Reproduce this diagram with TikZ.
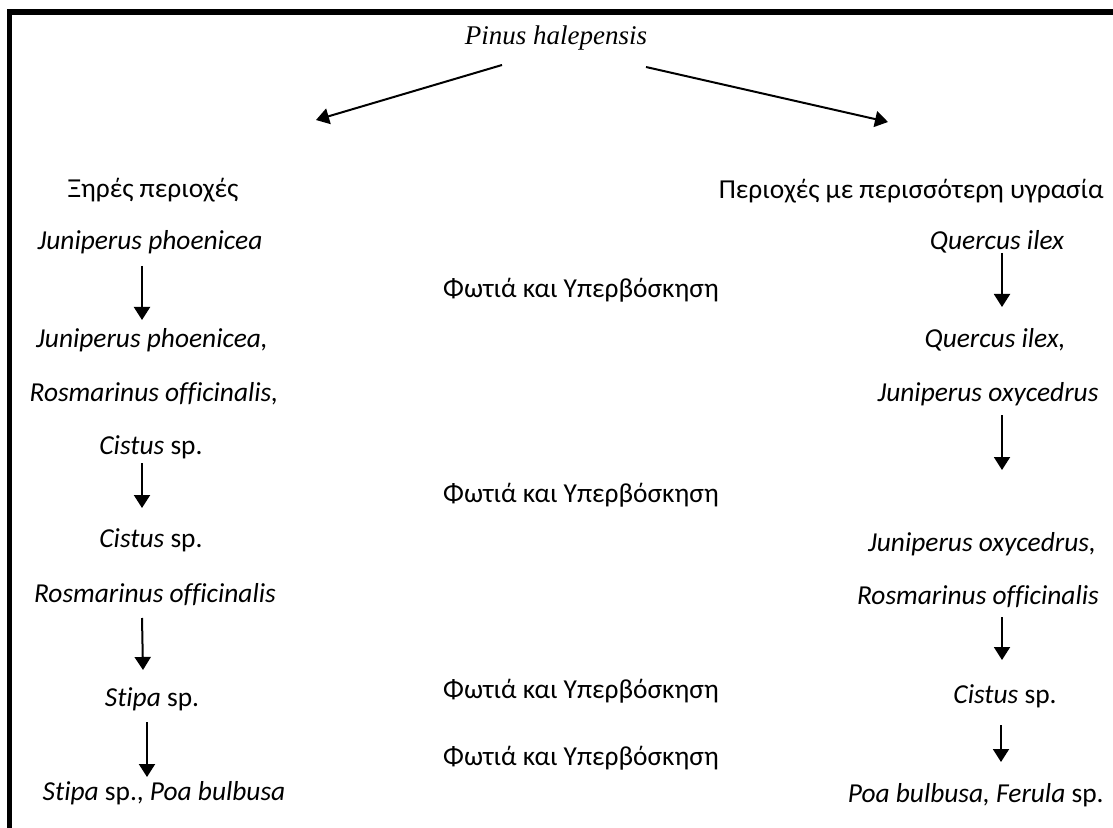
\documentclass[tikz,border=0pt]{standalone}
\usepackage{fontspec}
\setmainfont{Carlito}[Ligatures=NoCommon]
\newfontfamily\timesfont{Liberation Serif}
\usetikzlibrary{arrows.meta}
\begin{document}
\begin{tikzpicture}[x=0.5pt,y=-0.5pt,
  lbl/.style={anchor=base,inner sep=0pt,font=\fontsize{13.7}{16}\selectfont},
  lble/.style={lbl,anchor=base east},
  arr/.style={line width=1pt,-{Triangle[length=6.5pt,width=8pt]}},
  frame/.style={line width=2.8pt,line join=miter}]
\useasboundingbox (0,0) rectangle (1113,828);
% frame (top and left edges)
\coordinate (fbl) at (9.5,828);
\coordinate (ftl) at (9.5,12);
\coordinate (ftr) at (1113,12);
\draw[frame] (fbl) -- (ftl) -- (ftr);
% title
\node[lbl,font=\fontsize{13.5}{15}\selectfont] (pinus) at (556,45) {\timesfont\itshape Pinus halepensis};
% headings
\node[lbl] (dry) at (153,198) {Ξηρές περιοχές};
\node[lble] (wet) at (1104,199) {Περιοχές με περισσότερη υγρασία};
% left column
\node[lbl] (L1) at (150,250) {\textit{Juniperus phoenicea}};
\node[lbl] (L2) at (152,348) {\textit{Juniperus phoenicea,}};
\node[lbl] (L3) at (154,401) {\textit{Rosmarinus officinalis,}};
\node[lbl] (L4) at (151,454) {\textit{Cistus} sp.};
\node[lbl] (L5) at (151,547) {\textit{Cistus} sp.};
\node[lbl] (L6) at (155,602) {\textit{Rosmarinus officinalis}};
\node[lbl] (L7) at (152,706) {\textit{Stipa} sp.};
\node[lbl] (L8) at (164,800) {\textit{Stipa} sp., \textit{Poa bulbusa}};
% right column
\node[lbl] (R1) at (997,250) {\textit{Quercus ilex}};
\node[lbl] (R2) at (995,348) {\textit{Quercus ilex,}};
\node[lbl] (R3) at (988,401) {\textit{Juniperus oxycedrus}};
\node[lbl] (R4) at (982,551) {\textit{Juniperus oxycedrus,}};
\node[lbl] (R5) at (978,604) {\textit{Rosmarinus officinalis}};
\node[lbl] (R6) at (1005,703) {\textit{Cistus} sp.};
\node[lble] (R7) at (1104,802) {\textit{Poa bulbusa, Ferula} sp.};
% middle labels
\node[lbl] (F1) at (581,298) {Φωτιά και Υπερβόσκηση};
\node[lbl] (F2) at (581,502) {Φωτιά και Υπερβόσκηση};
\node[lbl] (F3) at (581,698) {Φωτιά και Υπερβόσκηση};
\node[lbl] (F4) at (581,765) {Φωτιά και Υπερβόσκηση};
% connector end points
\coordinate (p1s) at (502,65);   \coordinate (p1e) at (316,120);
\coordinate (p2s) at (646,67);   \coordinate (p2e) at (888,122);
\coordinate (a1s) at (142,266);  \coordinate (a1e) at (142,320);
\coordinate (a2s) at (142,463);  \coordinate (a2e) at (142,508);
\coordinate (a3s) at (142,618);  \coordinate (a3e) at (143,670);
\coordinate (a4s) at (147,722);  \coordinate (a4e) at (147,777);
\coordinate (b1s) at (1002,253); \coordinate (b1e) at (1002,307);
\coordinate (b2s) at (1002,415); \coordinate (b2e) at (1002,470);
\coordinate (b3s) at (1002,617); \coordinate (b3e) at (1002,660);
\coordinate (b4s) at (1001,725); \coordinate (b4e) at (1001,762);
\draw[arr] (p1s) -- (p1e);
\draw[arr] (p2s) -- (p2e);
\draw[arr] (a1s) -- (a1e);
\draw[arr] (a2s) -- (a2e);
\draw[arr] (a3s) -- (a3e);
\draw[arr] (a4s) -- (a4e);
\draw[arr] (b1s) -- (b1e);
\draw[arr] (b2s) -- (b2e);
\draw[arr] (b3s) -- (b3e);
\draw[arr] (b4s) -- (b4e);
\end{tikzpicture}
\end{document}
